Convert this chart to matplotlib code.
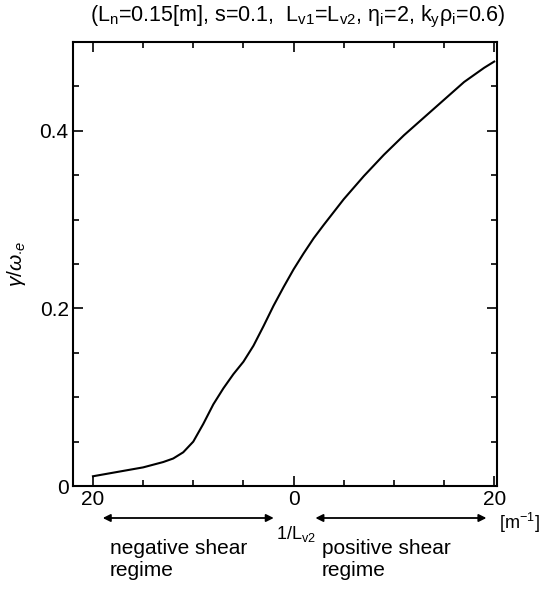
import numpy as np
import matplotlib.pyplot as plt
from matplotlib.ticker import MultipleLocator, FixedLocator

plt.rcParams['font.family'] = ['Liberation Sans', 'DejaVu Sans']
plt.rcParams['mathtext.fontset'] = 'custom'
plt.rcParams['mathtext.rm'] = 'Liberation Sans'
plt.rcParams['mathtext.it'] = 'Liberation Sans:italic'

# growth rate vs 1/Lv2
inv_lv2 = [-20, -18, -15, -13, -12, -11, -10, -9, -8, -7, -6, -5, -4, -3, -2, -1, 0,
           1, 2, 3, 5, 7, 9, 11, 13, 15, 17, 19, 20]
gamma = [0.011, 0.015, 0.021, 0.027, 0.031, 0.038, 0.05, 0.07, 0.092, 0.11, 0.126, 0.14,
         0.158, 0.18, 0.203, 0.224, 0.244, 0.262, 0.279, 0.294, 0.323, 0.349, 0.373,
         0.395, 0.415, 0.435, 0.455, 0.471, 0.478]

xtick_pos = [-20, 0, 20]
xtick_lab = ['20', '0', '20']
ytick_pos = [0, 0.2, 0.4]
ytick_lab = ['0', '0.2', '0.4']

fig = plt.figure(figsize=(5.44, 5.92), dpi=100)
ax = fig.add_axes([0.134, 0.179, 0.78, 0.750])

ax.plot(inv_lv2, gamma, '-', c='black', lw=1.5)

ax.set_xlim(-22, 20.3)
ax.set_ylim(0, 0.5)
ax.xaxis.set_major_locator(FixedLocator(xtick_pos))
ax.set_xticklabels(xtick_lab)
ax.xaxis.set_minor_locator(MultipleLocator(5))
ax.yaxis.set_major_locator(FixedLocator(ytick_pos))
ax.set_yticklabels(ytick_lab)
ax.yaxis.set_minor_locator(MultipleLocator(0.05))
ax.tick_params(which='both', direction='in', top=True, right=True, labelsize=15, width=1.2)
ax.tick_params(which='major', length=7, pad=3)
ax.tick_params(which='minor', length=4)
for s in ax.spines.values():
	s.set_linewidth(1.5)

ax.set_ylabel(r'$\gamma/\omega_{\cdot e}$', fontsize=15, labelpad=8)

fig.text(0.548, 0.972, r'(L$_\mathregular{n}$=0.15[m], s=0.1,  L$_\mathregular{v1}$=L$_\mathregular{v2}$, '
         r'$\mathregular{\eta}_\mathregular{i}$=2, k$_\mathregular{y}\mathregular{\rho}_\mathregular{i}$=0.6)',
         ha='center', va='center', fontsize=15.5)

trans = ax.get_xaxis_transform()
arr = dict(arrowstyle='<|-|>', color='black', lw=1.3, mutation_scale=11)
ax.annotate('', xy=(-19.3, -0.072), xytext=(-1.7, -0.072), xycoords=trans,
            textcoords=trans, arrowprops=arr, annotation_clip=False)
ax.annotate('', xy=(1.9, -0.072), xytext=(19.5, -0.072), xycoords=trans,
            textcoords=trans, arrowprops=arr, annotation_clip=False)

ax.text(0.2, -0.108, r'1/L$_\mathregular{v2}$', transform=trans, ha='center', va='center', fontsize=13)
ax.text(20.5, -0.083, r'[m$^\mathregular{-1}$]', transform=trans, ha='left', va='center', fontsize=13)
ax.text(-18.3, -0.12, 'negative shear\nregime', transform=trans, ha='left', va='top',
        fontsize=15, linespacing=1.2)
ax.text(2.8, -0.12, 'positive shear\nregime', transform=trans, ha='left', va='top',
        fontsize=15, linespacing=1.2)

plt.savefig('out.png', dpi=100)
